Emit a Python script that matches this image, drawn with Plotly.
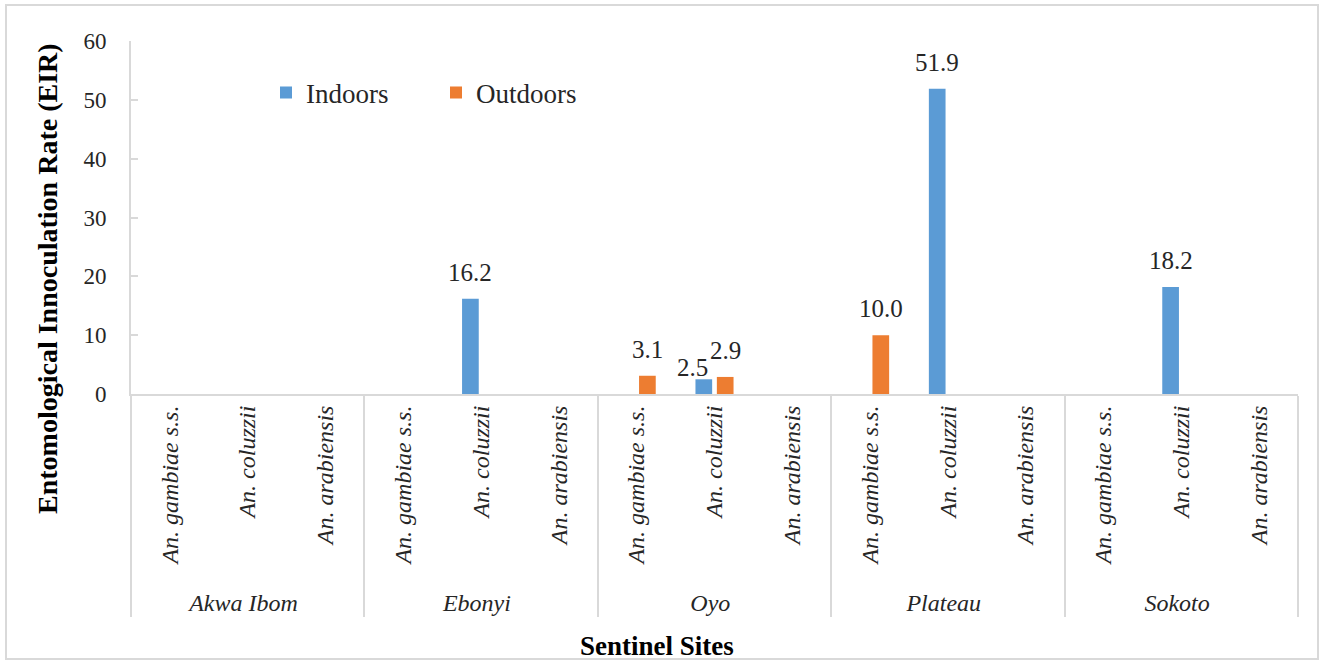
import plotly.graph_objects as go

sites = ["Akwa Ibom", "Ebonyi", "Oyo", "Plateau", "Sokoto"]
species = ["An. gambiae s.s.", "An. coluzzii", "An. arabiensis"]

# values per site (gambiae s.s., coluzzii, arabiensis); None = no bar
indoors = [
    [None, None, None],
    [None, 16.2, None],
    [None, 2.5, None],
    [None, 51.9, None],
    [None, 18.2, None],
]
outdoors = [
    [None, None, None],
    [None, None, None],
    [3.1, 2.9, None],
    [10.0, None, None],
    [None, None, None],
]
y_ticks = [0, 10, 20, 30, 40, 50, 60]

W, H = 1323, 664
ML, MR, MT, MB = 131, 25, 41, 270
PW, PH = W - ML - MR, H - MT - MB

FONT = "Liberation Serif, Times New Roman, serif"
BLUE = "#5B9BD5"
ORANGE = "#ED7D31"
GRID = "#d9d9d9"
TXT = "#262626"
BARGAP = 0.45
LABEL_LIFT = 11          # px between bar top and its value label
CROWD_SHIFT = (-11, -15)  # nudge for the lower label when two labels share a category

xs_outer = [s for s in sites for _ in species]
xs_inner = [sp for _ in sites for sp in species]
NCAT = len(xs_outer)


def flat(rows):
    return [v for r in rows for v in r]


def py(pix):
    """pixel row -> paper y"""
    return (MT + PH - pix) / PH


def px(pix):
    return (pix - ML) / PW


fig = go.Figure()
series = [("Indoors", flat(indoors), BLUE), ("Outdoors", flat(outdoors), ORANGE)]
for name, vals, col in series:
    fig.add_trace(go.Bar(
        x=[xs_outer, xs_inner], y=vals, name=name,
        marker=dict(color=col, line=dict(width=0)),
    ))

# value labels placed over each bar (category index -> axis fraction)
slot = (1 - BARGAP) / len(series)
annotations = []
for k, (name, vals, col) in enumerate(series):
    off = (k - (len(series) - 1) / 2) * slot
    for i, v in enumerate(vals):
        if v is None:
            continue
        others = [s[1][i] for j, s in enumerate(series) if j != k and s[1][i] is not None]
        xs, ys = 0, LABEL_LIFT
        if others and v < min(others):
            xs, ys = CROWD_SHIFT[0], LABEL_LIFT + CROWD_SHIFT[1]
        annotations.append(dict(
            text=f"{v:.1f}", xref="paper", yref="y", x=(i + 0.5 + off) / NCAT, y=v,
            xanchor="center", yanchor="bottom", showarrow=False, xshift=xs, yshift=ys,
            font=dict(family=FONT, size=25, color=TXT)))

annotations += [
    dict(text="<b>Entomological Innoculation Rate (EIR)</b>", textangle=-90,
         xref="paper", yref="paper", x=px(47), y=py(279),
         xanchor="center", yanchor="middle", showarrow=False,
         font=dict(family=FONT, size=28, color="#000000")),
    dict(text="<b>Sentinel Sites</b>", xref="paper", yref="paper",
         x=px(657), y=py(646), xanchor="center", yanchor="middle",
         showarrow=False, font=dict(family=FONT, size=27, color="#000000")),
]

fig.update_layout(
    width=W, height=H,
    margin=dict(l=ML, r=MR, t=MT, b=MB),
    paper_bgcolor="white", plot_bgcolor="white",
    barmode="group", bargap=BARGAP, bargroupgap=0.22,
    font=dict(family=FONT, size=23, color=TXT),
    showlegend=True,
    legend=dict(orientation="h", x=px(266), y=py(93),
                xanchor="left", yanchor="middle",
                font=dict(family=FONT, size=27, color=TXT),
                bgcolor="rgba(0,0,0,0)", itemwidth=30,
                entrywidth=125, entrywidthmode="pixels"),
    xaxis=dict(
        type="multicategory", showline=True, linecolor=GRID, linewidth=2,
        showgrid=False, ticks="", tickangle=-90,
        tickfont=dict(family=FONT, size=24, color=TXT, style="italic"),
        showdividers=True, dividercolor=GRID, dividerwidth=2,
    ),
    yaxis=dict(
        range=[0, 60], tickvals=y_ticks, showline=True, linecolor=GRID, linewidth=2,
        showgrid=False, zeroline=False, ticks="inside", ticklen=7, tickcolor=GRID,
        tickwidth=2, tickfont=dict(family=FONT, size=23, color=TXT), ticklabelstandoff=18,
    ),
    annotations=annotations,
    shapes=[
        dict(type="rect", xref="paper", yref="paper",
             x0=px(6), x1=px(1318), y0=py(659), y1=py(5),
             line=dict(color=GRID, width=2), layer="below"),
    ],
)

fig.write_html("out.html")
